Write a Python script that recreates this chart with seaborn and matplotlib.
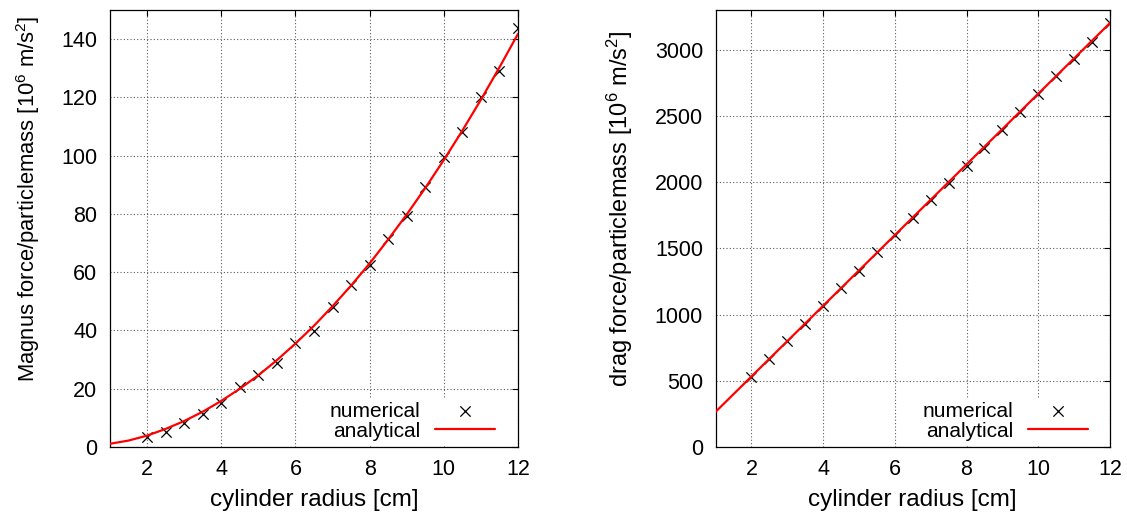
import matplotlib
matplotlib.use("Agg")
import matplotlib.pyplot as plt
import seaborn as sns

# radius of the cylinder [cm]
radius_num = [2.0, 2.5, 3.0, 3.5, 4.0, 4.5, 5.0, 5.5, 6.0, 6.5, 7.0,
              7.5, 8.0, 8.5, 9.0, 9.5, 10.0, 10.5, 11.0, 11.5, 12.0]

# Magnus force / particle mass [1e6 m/s^2]
magnus_num = [3.4, 5.3, 8.2, 11.3, 15.0, 20.5, 24.7, 28.9, 35.8, 39.9, 48.0,
              55.6, 62.5, 71.5, 79.3, 89.4, 99.7, 108.1, 120.2, 129.1, 143.8]
radius_ana = [1.0, 1.5, 2.0, 2.5, 3.0, 3.5, 4.0, 4.5, 5.0, 5.5, 6.0, 6.5,
              7.0, 7.5, 8.0, 8.5, 9.0, 9.5, 10.0, 10.5, 11.0, 11.5, 12.0]
magnus_ana = [1.1, 2.2, 3.9, 6.2, 8.9, 12.1, 15.8, 20.0, 24.6, 29.8, 35.5, 41.6,
              48.3, 55.4, 63.0, 71.2, 79.8, 88.9, 98.5, 108.6, 119.2, 130.3, 141.8]

# drag force / particle mass [1e6 m/s^2]
drag_num = [530, 663, 799, 928, 1066, 1198, 1331, 1470, 1599, 1727, 1865,
            1996, 2125, 2261, 2395, 2528, 2664, 2800, 2929, 3062, 3201]
radius_drag_ana = [1.0, 12.0]
drag_ana = [265, 3202]

sns.set_theme(style="white")
plt.rcParams['font.family'] = ['Liberation Sans', 'DejaVu Sans']
plt.rcParams['mathtext.default'] = 'regular'
plt.rcParams['text.color'] = 'black'
plt.rcParams['axes.labelcolor'] = 'black'
plt.rcParams['xtick.color'] = 'black'
plt.rcParams['ytick.color'] = 'black'

fig = plt.figure(figsize=(11.27, 5.14), dpi=100)
ax1 = fig.add_axes([0.0976, 0.1304, 0.3620, 0.8501])
ax2 = fig.add_axes([0.6349, 0.1304, 0.3500, 0.8501])


def draw_panel(ax, xn, yn, xa, ya, ylim, yticks, ylabel, ylabel_size,
               ylabelpad, ylabel_y):
    sns.scatterplot(x=xn, y=yn, ax=ax, marker='x', color='black', s=55,
                    linewidth=0.9, label='numerical', zorder=3)
    sns.lineplot(x=xa, y=ya, ax=ax, color='red', linewidth=1.6,
                 label='analytical', zorder=4)
    ax.set_xlim(1, 12)
    ax.set_ylim(*ylim)
    ax.set_xticks([2, 4, 6, 8, 10, 12])
    ax.set_yticks(yticks)
    ax.grid(True, color='0.35', linestyle=(0, (1, 2)), linewidth=0.8)
    ax.tick_params(direction='in', top=True, right=True, length=4,
                   width=0.8, labelsize=15.5, colors='black', pad=9)
    for sp in ax.spines.values():
        sp.set_color('black')
        sp.set_linewidth(0.9)
    ax.set_xlabel('cylinder radius [cm]', fontsize=17.5, labelpad=6)
    ax.set_ylabel(ylabel, fontsize=ylabel_size, labelpad=ylabelpad)
    ax.yaxis.label.set_y(ylabel_y)
    leg = ax.legend(loc='lower right', bbox_to_anchor=(0.96, 0.0),
                    markerfirst=False, fontsize=15, frameon=True,
                    facecolor='white', edgecolor='none', framealpha=1,
                    handlelength=2.9, handletextpad=0.7, labelspacing=0.05,
                    borderpad=0.2, borderaxespad=0.1, fancybox=False)
    leg.set_zorder(5)


draw_panel(ax1, radius_num, magnus_num, radius_ana, magnus_ana,
           (0, 150), [0, 20, 40, 60, 80, 100, 120, 140],
           'Magnus force/particlemass [10$^6$ m/s$^2$]', 15.8, 14, 0.567)
draw_panel(ax2, radius_num, drag_num, radius_drag_ana, drag_ana,
           (0, 3300), [0, 500, 1000, 1500, 2000, 2500, 3000],
           'drag force/particlemass [10$^6$ m/s$^2$]', 17, 14, 0.545)

fig.savefig('out.png', dpi=100)
plt.close(fig)
